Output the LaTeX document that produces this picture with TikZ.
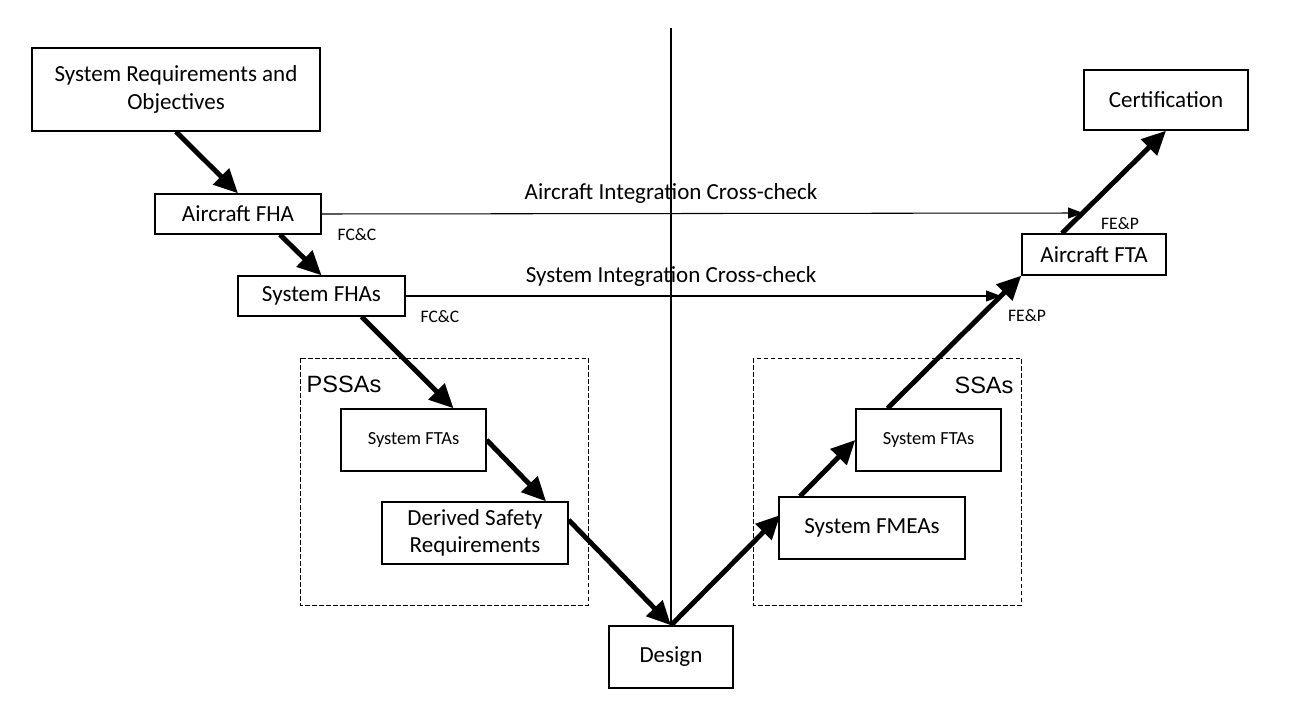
\documentclass[tikz,border=0pt]{standalone}
\usepackage{fontspec}
\setmainfont{Carlito}
\newfontfamily\labelfont{Liberation Sans}
\usetikzlibrary{arrows.meta,calc}

\tikzset{
    box/.style={draw, line width=0.8pt, inner sep=0pt, align=center,
        font=\fontsize{13.1}{15.6}\selectfont},
    smallbox/.style={box, font=\fontsize{10.5}{12}\selectfont},
    groupbox/.style={draw, line width=0.5pt, dash pattern=on 0.9mm off 0.5mm},
    grouplabel/.style={font=\labelfont\fontsize{13.4}{15}\selectfont, inner sep=0pt},
    bigarrow/.style={line width=2.8pt, -{Triangle[length=4.8mm, width=4.4mm]}},
    thinarrow/.style={line width=0.6pt, -{Triangle[length=3mm, width=2.2mm]}},
    tag/.style={font=\fontsize{10}{11}\selectfont, inner sep=0pt},
}

\begin{document}
\begin{tikzpicture}[x=0.2mm, y=-0.2mm]
    \useasboundingbox (0, 0) rectangle (1300, 714);

    % dashed groups
    \draw[groupbox] (300, 358) rectangle (588, 605);
    \draw[groupbox] (753, 358) rectangle (1021, 605);
    \node[grouplabel] (pssas) at (344, 384) {PSSAs};
    \node[grouplabel] (ssas) at (984, 385) {SSAs};

    % boxes
    \node[box, minimum width=57.6mm, minimum height=16.6mm] (sysreq) at (176, 89.5) {System Requirements and\\Objectives};
    \node[box, minimum width=33.2mm, minimum height=8mm] (afha) at (238, 214) {Aircraft FHA};
    \node[box, minimum width=33.4mm, minimum height=8mm] (sfha) at (321.5, 296) {System FHAs};
    \node[smallbox, minimum width=29mm, minimum height=12.4mm] (lfta) at (413.5, 440) {System FTAs};
    \node[box, minimum width=37.2mm, minimum height=12.4mm] (dsr) at (475, 533) {Derived Safety\\Requirements};
    \node[box, minimum width=24.8mm, minimum height=12.4mm] (design) at (671, 657) {Design};
    \node[box, minimum width=37.2mm, minimum height=12.4mm] (fmea) at (872, 528) {System FMEAs};
    \node[smallbox, minimum width=29mm, minimum height=12.4mm] (rfta) at (928.5, 440) {System FTAs};
    \node[box, minimum width=28.8mm, minimum height=8.2mm] (afta) at (1094, 254.5) {Aircraft FTA};
    \node[box, minimum width=32.8mm, minimum height=12mm] (cert) at (1166, 100) {Certification};

    % centre line
    \coordinate (top) at (671, 28);
    \draw[line width=0.6pt] (top) -- (design.north);

    % cross-checks
    \coordinate (acheck) at (1083, 213);
    \coordinate (scheck) at (1001, 296);
    \draw[thinarrow] (afha.east) -- (acheck);
    \draw[thinarrow] (sfha.east) -- (scheck);
    \node[box, draw=none] (alabel) at (671, 193) {Aircraft Integration Cross-check};
    \node[box, draw=none] (slabel) at (671, 276) {System Integration Cross-check};

    \node[tag] (fcc1) at (357, 235) {FC\&C};
    \node[tag] (fcc2) at (440, 317) {FC\&C};
    \node[tag] (fep1) at (1120, 224) {FE\&P};
    \node[tag] (fep2) at (1027, 316) {FE\&P};

    % V flow
    \draw[bigarrow] (sysreq.south) -- (afha.north);
    \draw[bigarrow] ($(afha.south)+(42, 0)$) -- (sfha.north);
    \draw[bigarrow] ($(sfha.south)+(40, 0)$) -- ($(lfta.north)+(40, 0)$);
    \draw[bigarrow] (lfta.east) -- ($(dsr.north)+(71, 0)$);
    \draw[bigarrow] ($(dsr.east)+(0, -13)$) -- (design.north);
    \draw[bigarrow] (design.north) -- ($(fmea.west)+(2, -13)$);
    \draw[bigarrow] ($(fmea.north)+(-72, 0)$) -- (rfta.west);
    \draw[bigarrow] ($(rfta.north)+(-41, 0)$) -- (afta.south west);
    \draw[bigarrow] ($(afta.north)+(-32, 0)$) -- (cert.south);
\end{tikzpicture}
\end{document}
